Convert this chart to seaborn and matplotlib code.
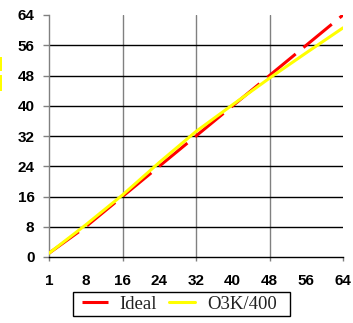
import matplotlib
matplotlib.use("Agg")
import matplotlib.pyplot as plt
from matplotlib.patches import Rectangle
import numpy as np
import pandas as pd
import seaborn as sns

# Processor counts (categorical axis) and speedup values
cores = [1, 8, 16, 24, 32, 40, 48, 56, 64]
ideal = [1, 8, 16, 24, 32, 40, 48, 56, 64]
o3k_400 = [1, 8.5, 16.4, 25.0, 33.2, 40.3, 47.3, 54.0, 60.6]
y_ticks = [0, 8, 16, 24, 32, 40, 48, 56, 64]

sns.set_theme(style="white")
plt.rcParams["font.family"] = ["Liberation Sans", "DejaVu Sans"]

pos = np.arange(len(cores))
df = pd.DataFrame({
    "pos": np.concatenate([pos, pos]),
    "speedup": ideal + o3k_400,
    "series": ["Ideal"] * len(cores) + ["O3K/400"] * len(cores),
})

W, H = 353, 323
fig = plt.figure(figsize=(W / 100, H / 100), dpi=100)
fig.patch.set_facecolor("white")
ax = fig.add_axes([49 / W, 1 - 257 / H, 294 / W, 242 / H])
ax.set_facecolor("white")

sns.lineplot(data=df[df.series == "Ideal"], x="pos", y="speedup", ax=ax,
             color="#FF0000", lw=2.2, linestyle=(0, (12, 3.3)), zorder=3,
             label="Ideal", legend=False)
sns.lineplot(data=df[df.series == "O3K/400"], x="pos", y="speedup", ax=ax,
             color="#FFFF00", lw=2.2, zorder=4, label="O3K/400", legend=False)

ax.set_xlim(0, len(cores) - 1)
ax.set_ylim(0, 64)
ax.set_xlabel("")
ax.set_ylabel("")

# x: labels at every category, tick marks / vertical grid every other one
ax.xaxis.remove_overlapping_locs = False
ax.set_xticks(pos)
ax.set_xticklabels([str(c) for c in cores])
ax.set_xticks(pos[::2], minor=True)
ax.tick_params(axis="x", which="major", length=0, pad=12)
ax.tick_params(axis="x", which="minor", length=3, width=1, color="#808080",
               direction="out", bottom=True)
ax.set_yticks(y_ticks)
ax.tick_params(axis="y", which="major", length=4.5, width=1, color="#808080",
               direction="out", left=True, pad=6)
for lab in ax.get_xticklabels() + ax.get_yticklabels():
    lab.set_fontweight("bold")
    lab.set_fontsize(11)
    lab.set_color("black")

ax.grid(False)
ax.yaxis.grid(True, color="black", lw=1)
ax.xaxis.grid(True, which="minor", color="#808080", lw=1)
ax.set_axisbelow(True)
ygl = ax.get_ygridlines()
ygl[0].set_visible(False)
ygl[-1].set_visible(False)

for s in ["top", "right"]:
    ax.spines[s].set_visible(False)
ax.spines["left"].set_color("#808080")
ax.spines["left"].set_linewidth(1)
ax.spines["bottom"].set_color("black")
ax.spines["bottom"].set_linewidth(1)

fig.canvas.draw()
# no vertical grid line on the left spine or at the right edge
for t in ax.xaxis.get_minor_ticks():
    loc = t.get_loc()
    if loc is not None and (abs(loc) < 1e-9 or abs(loc - (len(cores) - 1)) < 1e-9):
        t.gridline.set_visible(False)

# legend: entries centred inside a plain rectangular frame
box_l, box_r, box_t, box_b = 73, 290, 292, 316
fig.patches.append(Rectangle((box_l / W, 1 - box_b / H), (box_r - box_l) / W,
                             (box_b - box_t) / H, transform=fig.transFigure,
                             facecolor="white", edgecolor="black", lw=1, zorder=0))
handles, labels = ax.get_legend_handles_labels()
leg = fig.legend(handles, labels, loc="center",
                 bbox_to_anchor=((box_l + box_r) / 2 / W - 2 / W, 1 - (box_t + box_b) / 2 / H),
                 ncol=2, frameon=False,
                 prop={"family": ["Liberation Serif"], "size": 13.5},
                 handlelength=1.35, handletextpad=0.65, columnspacing=0.65,
                 borderpad=0, borderaxespad=0)
for txt in leg.get_texts():
    txt.set_color("#222222")

# small yellow shape clipped at the left edge of the figure
fig.patches.append(Rectangle((0, 1 - 71 / H), 2 / W, 14 / H, transform=fig.transFigure,
                             facecolor="#FFFF00", edgecolor="none"))
fig.patches.append(Rectangle((0, 1 - 91 / H), 2 / W, 16 / H, transform=fig.transFigure,
                             facecolor="#FFFF00", edgecolor="none"))

fig.savefig("out.png", dpi=100, facecolor="white")
